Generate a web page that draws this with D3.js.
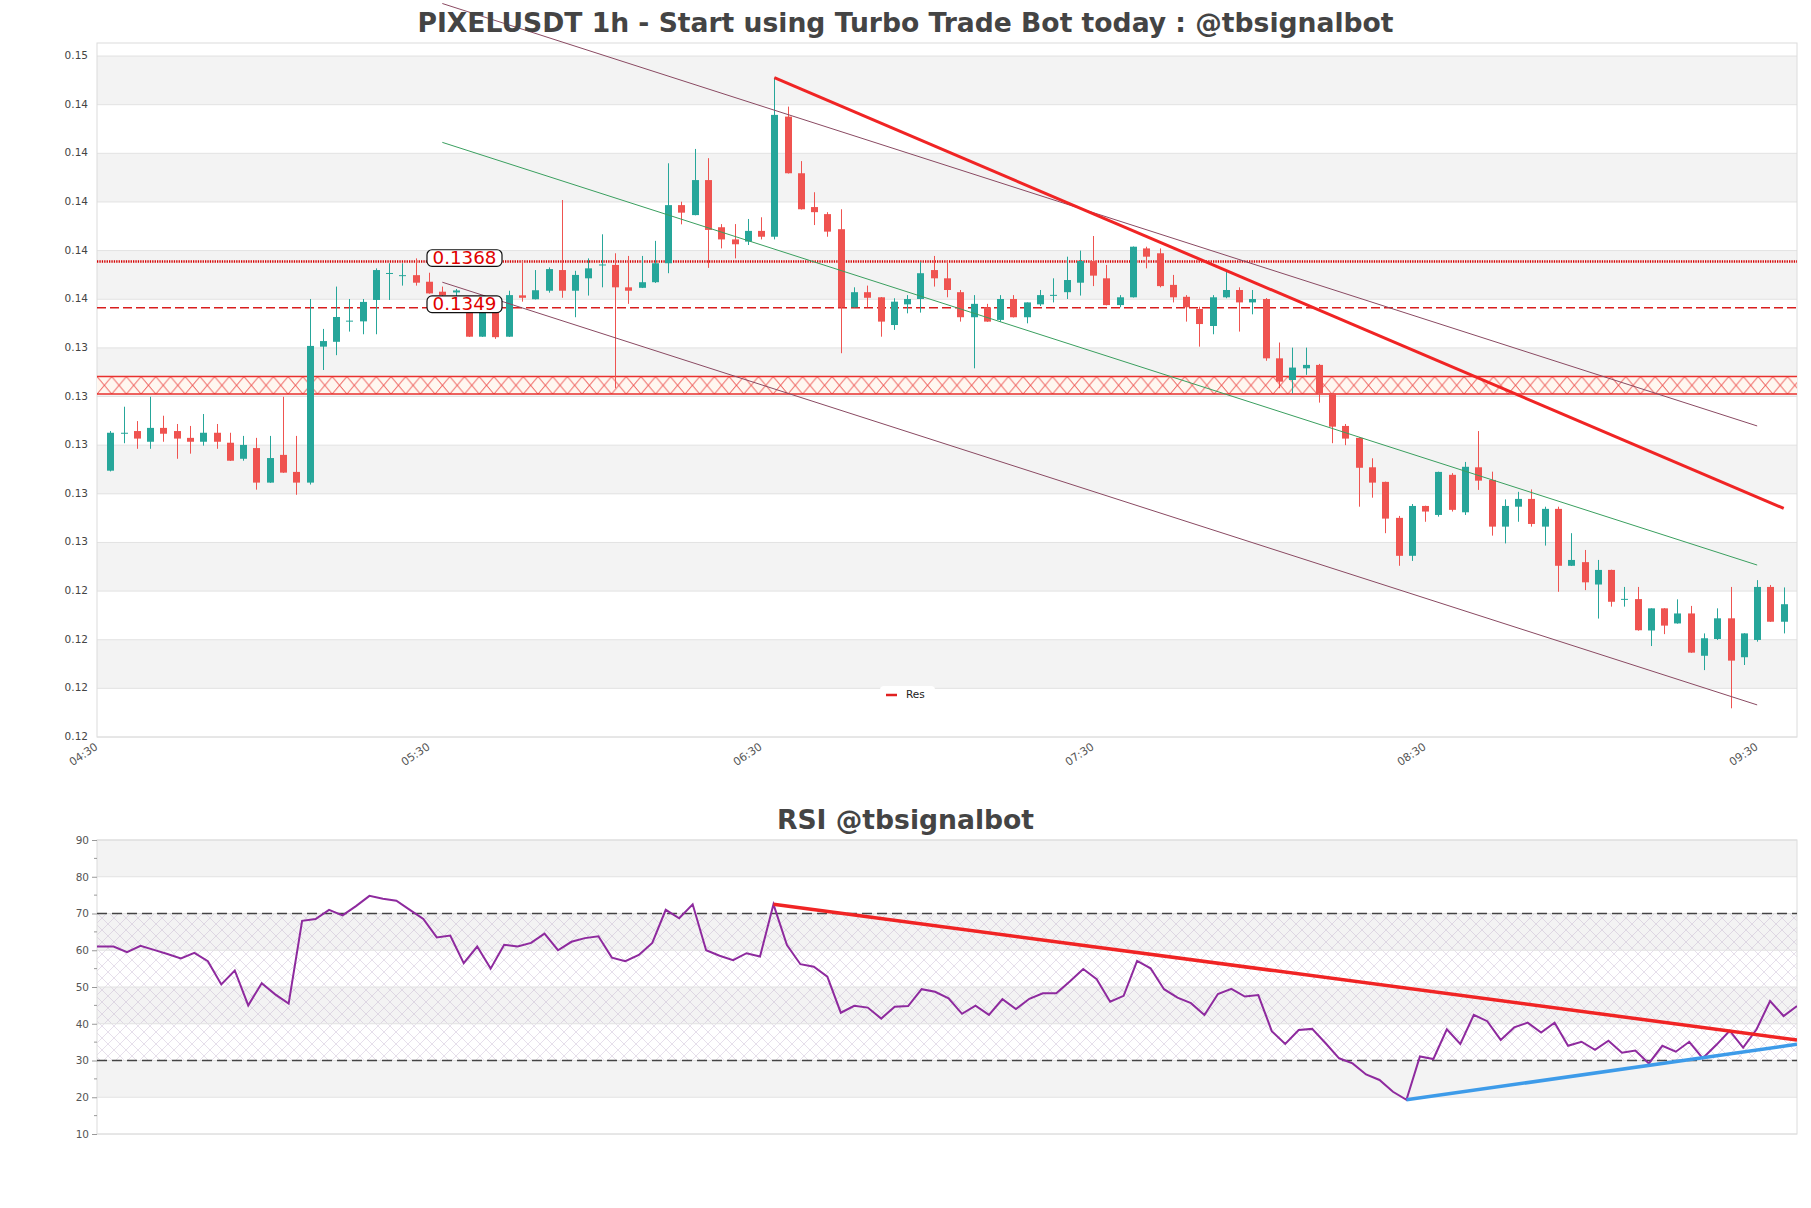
<!DOCTYPE html>
<html>
<head>
<meta charset="utf-8">
<script src="https://cdn.jsdelivr.net/npm/d3@7"></script>
<style>
body { margin: 0; background: #fff; }
text { font-family: "DejaVu Sans", sans-serif; }
</style>
</head>
<body>
<svg id="chart" width="1811" height="1208"></svg>
<script>
// candles 1..127 (category 0 and 128 are empty)
var openP = [0.12820,0.12972,0.12983,0.12939,0.12996,0.12983,0.12955,0.12939,0.12976,0.12935,
0.12869,0.12913,0.12771,0.12885,0.12815,0.12771,0.13330,0.13350,0.13434,0.13434,
0.13522,0.13630,0.13622,0.13624,0.13597,0.13556,0.13553,0.13501,0.13371,0.13501,
0.13371,0.13541,0.13525,0.13560,0.13645,0.13560,0.13611,0.13666,0.13666,0.13574,
0.13572,0.13595,0.13673,0.13912,0.13871,0.14015,0.13821,0.13771,0.13762,0.13806,
0.13782,0.14276,0.14043,0.13904,0.13875,0.13813,0.13492,0.13554,0.13533,0.13419,
0.13504,0.13526,0.13645,0.13611,0.13554,0.13451,0.13492,0.13440,0.13526,0.13451,
0.13504,0.13541,0.13554,0.13593,0.13682,0.13611,0.13501,0.13533,0.13734,0.13714,
0.13584,0.13535,0.13485,0.13415,0.13533,0.13563,0.13512,0.13526,0.13282,0.13193,
0.13241,0.13255,0.13138,0.13004,0.12955,0.12834,0.12774,0.12626,0.12470,0.12675,
0.12638,0.12803,0.12649,0.12834,0.12782,0.12590,0.12672,0.12704,0.12590,0.12663,
0.12429,0.12444,0.12352,0.12412,0.12291,0.12292,0.12163,0.12254,0.12192,0.12233,
0.12059,0.12128,0.12213,0.12053,0.12124,0.12342,0.12199];
var highP = [0.12983,0.13083,0.13024,0.13124,0.13046,0.13012,0.13004,0.13053,0.13012,0.12976,
0.12963,0.12955,0.12963,0.13124,0.12963,0.13526,0.13403,0.13577,0.13526,0.13526,
0.13652,0.13673,0.13673,0.13693,0.13634,0.13577,0.13567,0.13522,0.13522,0.13522,
0.13560,0.13684,0.13645,0.13656,0.13933,0.13642,0.13693,0.13792,0.13714,0.13703,
0.13703,0.13765,0.14084,0.13926,0.14143,0.14105,0.13834,0.13834,0.13855,0.13862,
0.14436,0.14317,0.14093,0.13965,0.13883,0.13895,0.13574,0.13581,0.13534,0.13529,
0.13542,0.13679,0.13703,0.13686,0.13563,0.13542,0.13506,0.13542,0.13542,0.13512,
0.13563,0.13611,0.13700,0.13725,0.13785,0.13666,0.13542,0.13742,0.13741,0.13734,
0.13625,0.13542,0.13494,0.13542,0.13642,0.13574,0.13563,0.13530,0.13347,0.13326,
0.13326,0.13259,0.13139,0.13012,0.12958,0.12871,0.12775,0.12634,0.12683,0.12676,
0.12816,0.12810,0.12856,0.12983,0.12816,0.12702,0.12733,0.12743,0.12672,0.12672,
0.12563,0.12494,0.12453,0.12413,0.12342,0.12342,0.12254,0.12255,0.12291,0.12264,
0.12151,0.12254,0.12342,0.12152,0.12370,0.12350,0.12340];
var lowP = [0.12817,0.12933,0.12910,0.12910,0.12939,0.12869,0.12890,0.12923,0.12910,0.12860,
0.12861,0.12742,0.12770,0.12811,0.12721,0.12763,0.13234,0.13295,0.13392,0.13381,
0.13381,0.13522,0.13581,0.13581,0.13548,0.13534,0.13538,0.13370,0.13370,0.13362,
0.13370,0.13515,0.13524,0.13552,0.13531,0.13451,0.13540,0.13574,0.13159,0.13506,
0.13571,0.13592,0.13632,0.13833,0.13870,0.13654,0.13734,0.13693,0.13748,0.13771,
0.13771,0.14042,0.13894,0.13830,0.13782,0.13303,0.13491,0.13492,0.13371,0.13399,
0.13467,0.13470,0.13577,0.13533,0.13433,0.13241,0.13432,0.13432,0.13450,0.13426,
0.13497,0.13512,0.13526,0.13540,0.13579,0.13500,0.13492,0.13532,0.13652,0.13574,
0.13512,0.13433,0.13330,0.13381,0.13529,0.13392,0.13463,0.13272,0.13159,0.13138,
0.13214,0.13100,0.12933,0.12925,0.12672,0.12709,0.12563,0.12429,0.12449,0.12610,
0.12631,0.12652,0.12638,0.12741,0.12553,0.12521,0.12610,0.12590,0.12512,0.12322,
0.12428,0.12329,0.12212,0.12261,0.12261,0.12162,0.12099,0.12148,0.12191,0.12071,
0.12000,0.12124,0.11843,0.12021,0.12117,0.12198,0.12151];
var closeP = [0.12976,0.12976,0.12952,0.12996,0.12972,0.12952,0.12939,0.12976,0.12939,0.12861,
0.12926,0.12771,0.12872,0.12812,0.12771,0.13333,0.13353,0.13452,0.13437,0.13514,
0.13645,0.13633,0.13624,0.13593,0.13549,0.13542,0.13561,0.13371,0.13501,0.13369,
0.13542,0.13531,0.13562,0.13649,0.13560,0.13625,0.13652,0.13668,0.13574,0.13560,
0.13595,0.13673,0.13912,0.13881,0.14015,0.13810,0.13771,0.13751,0.13806,0.13782,
0.14283,0.14043,0.13895,0.13883,0.13803,0.13492,0.13554,0.13531,0.13433,0.13515,
0.13526,0.13632,0.13611,0.13563,0.13451,0.13506,0.13433,0.13526,0.13451,0.13512,
0.13542,0.13543,0.13604,0.13682,0.13622,0.13501,0.13533,0.13741,0.13700,0.13579,
0.13533,0.13492,0.13423,0.13533,0.13563,0.13512,0.13526,0.13282,0.13186,0.13244,
0.13255,0.13138,0.13001,0.12952,0.12832,0.12771,0.12623,0.12470,0.12675,0.12652,
0.12815,0.12659,0.12836,0.12779,0.12590,0.12675,0.12704,0.12601,0.12663,0.12429,
0.12453,0.12361,0.12412,0.12281,0.12293,0.12164,0.12254,0.12183,0.12233,0.12072,
0.12131,0.12213,0.12039,0.12151,0.12342,0.12199,0.12271];

var rsiValues = [61.0,61.0,61.0,59.5,61.2,60.1,59.0,57.8,59.3,57.0,
50.7,54.5,45.0,51.0,48.0,45.5,68.0,68.5,71.0,69.5,
72.0,74.8,74.0,73.5,71.0,68.5,63.5,64.0,56.5,61.0,
55.0,61.5,61.0,62.0,64.5,60.0,62.3,63.3,63.8,58.0,
57.0,58.7,62.0,71.0,68.7,72.5,60.0,58.5,57.3,59.2,
58.3,72.5,61.4,56.2,55.5,52.8,43.0,44.9,44.4,41.4,
44.6,44.8,49.4,48.7,46.9,42.7,44.9,42.4,46.7,44.0,
46.8,48.3,48.3,51.5,54.9,52.1,46.0,47.6,57.1,55.1,
49.4,47.1,45.6,42.4,48.1,49.5,47.4,47.8,38.0,34.5,
38.3,38.6,34.7,30.6,29.2,26.2,24.7,21.5,19.3,31.1,
30.4,38.5,34.5,42.4,40.7,35.6,39.0,40.3,37.6,40.3,
34.0,35.1,32.9,35.4,32.1,32.7,29.2,34.0,32.4,35.1,
30.6,34.2,38.1,33.5,38.5,46.2,42.1,44.8];

var priceTicks = [0.11725,0.11925,0.12125,0.12325,0.12525,0.12725,0.12925,0.13125,
0.13325,0.13525,0.13725,0.13925,0.14125,0.14325,0.14525];
var priceTickLabels = ["0.12","0.12","0.12","0.12","0.13","0.13","0.13","0.13",
"0.13","0.14","0.14","0.14","0.14","0.14","0.15"];
var timeLabels = ["04:30","05:30","06:30","07:30","08:30","09:30"];
var timeLabelIndex = [0,25,50,75,100,125];
var rsiTicks = [10,20,30,40,50,60,70,80,90];
var rsiMinorTicks = [15,25,35,45,55,65,75,85];

var levelSolid = 0.1368;   // dotted
var levelDashed = 0.1349;  // dashed
var zoneLow = 0.13135, zoneHigh = 0.13207;
var resLine = [[51,0.14436],[127,0.12665]];
var channelTop = [[26,0.14741],[125,0.13004]];
var channelMid = [[26,0.14170],[125,0.12432]];
var channelLow = [[26,0.13595],[125,0.11857]];
var rsiDown = [[51,72.5],[127,35.6]];
var rsiUp = [[98,19.3],[127,34.4]];

var svg = d3.select("#chart");
var W = 1811, L = 97, R = 1797;
var mainTop = 43, mainBottom = 737;
var rsiTop = 840, rsiBottom = 1134;

var x = d3.scaleLinear().domain([0, 128]).range([L, R]);
var y = d3.scaleLinear().domain([0.11725, 0.145786]).range([mainBottom, mainTop]);
var xr = d3.scaleLinear().domain([0.77, 127]).range([L, R]);
var yr = d3.scaleLinear().domain([10, 90]).range([rsiBottom, rsiTop]);

var defs = svg.append("defs");
var zh = y(zoneLow) - y(zoneHigh);
var zp = defs.append("pattern").attr("id", "zoneHatch")
  .attr("patternUnits", "userSpaceOnUse")
  .attr("width", 14.7).attr("height", zh)
  .attr("x", L).attr("y", y(zoneHigh));
zp.append("rect").attr("width", 14.7).attr("height", zh).attr("fill", "#fff7f0");
zp.append("path").attr("d", "M0,0L14.7," + zh + "M14.7,0L0," + zh)
  .attr("stroke", "#e8302e").attr("stroke-width", 0.9).attr("fill", "none");

var rp = defs.append("pattern").attr("id", "rsiHatch")
  .attr("patternUnits", "userSpaceOnUse").attr("width", 12).attr("height", 12);
rp.append("path").attr("d", "M0,0L12,12M12,0L0,12")
  .attr("stroke", "#b9a6c6").attr("stroke-width", 0.6).attr("stroke-opacity", 0.6).attr("fill", "none");

defs.append("clipPath").attr("id", "rsiClip").append("rect")
  .attr("x", L).attr("y", rsiTop).attr("width", R - L).attr("height", rsiBottom - rsiTop);

// ---------- main price panel ----------
var bands = priceTicks.concat([y.domain()[1]]);
for (var i = 0; i < bands.length - 1; i++) {
  svg.append("rect").attr("x", L).attr("width", R - L)
    .attr("y", y(bands[i + 1])).attr("height", y(bands[i]) - y(bands[i + 1]))
    .attr("fill", i % 2 ? "#f3f3f3" : "#ffffff");
}
svg.selectAll(".pgrid").data(priceTicks).enter().append("line")
  .attr("x1", L).attr("x2", R)
  .attr("y1", function(d) { return y(d); }).attr("y2", function(d) { return y(d); })
  .attr("stroke", "#e2e2e2").attr("stroke-width", 1);
svg.append("rect").attr("x", L).attr("y", mainTop).attr("width", R - L).attr("height", mainBottom - mainTop)
  .attr("fill", "none").attr("stroke", "#dcdcdc");

svg.selectAll(".plabel").data(priceTicks).enter().append("text")
  .attr("x", 88).attr("y", function(d) { return y(d); })
  .attr("text-anchor", "end").attr("dominant-baseline", "middle")
  .attr("font-size", 10.5).attr("fill", "#444")
  .text(function(d, i) { return priceTickLabels[i]; });

svg.selectAll(".tlabel").data(timeLabels).enter().append("text")
  .attr("transform", function(d, i) { return "translate(" + x(timeLabelIndex[i]) + "," + (mainBottom + 9) + ") rotate(-34)"; })
  .attr("text-anchor", "end").attr("dominant-baseline", "middle")
  .attr("font-size", 11).attr("fill", "#555")
  .text(function(d) { return d; });

// zone
svg.append("rect").attr("x", L).attr("width", R - L)
  .attr("y", y(zoneHigh)).attr("height", zh)
  .attr("fill", "url(#zoneHatch)");
[zoneLow, zoneHigh].forEach(function(v) {
  svg.append("line").attr("x1", L).attr("x2", R).attr("y1", y(v)).attr("y2", y(v))
    .attr("stroke", "#e8302e").attr("stroke-width", 1.5);
});

// levels
svg.append("line").attr("x1", L).attr("x2", R).attr("y1", y(levelSolid)).attr("y2", y(levelSolid))
  .attr("stroke", "#d40000").attr("stroke-width", 2.5).attr("stroke-dasharray", "1.3,1.1");
svg.append("line").attr("x1", L).attr("x2", R).attr("y1", y(levelDashed)).attr("y2", y(levelDashed))
  .attr("stroke", "#d81e1e").attr("stroke-width", 1.6).attr("stroke-dasharray", "9,4");

// candles
var candles = openP.map(function(o, i) {
  return { idx: i + 1, o: o, h: highP[i], l: lowP[i], c: closeP[i] };
});
var bodyW = 7;
var cg = svg.append("g");
cg.selectAll(".wick").data(candles).enter().append("line")
  .attr("x1", function(d) { return Math.round(x(d.idx)) + 0.5; })
  .attr("x2", function(d) { return Math.round(x(d.idx)) + 0.5; })
  .attr("y1", function(d) { return y(d.h); }).attr("y2", function(d) { return y(d.l); })
  .attr("stroke", function(d) { return d.c >= d.o ? "#26a69a" : "#ef5350"; })
  .attr("stroke-width", 1);
cg.selectAll(".body").data(candles).enter().append("rect")
  .attr("x", function(d) { return Math.round(x(d.idx)) + 0.5 - bodyW / 2; })
  .attr("width", bodyW)
  .attr("y", function(d) { return y(Math.max(d.o, d.c)); })
  .attr("height", function(d) { return Math.max(1, Math.abs(y(d.o) - y(d.c))); })
  .attr("fill", function(d) { return d.c >= d.o ? "#26a69a" : "#ef5350"; });

// trend lines
var lineP = d3.line().x(function(d) { return x(d[0]); }).y(function(d) { return y(d[1]); });
svg.append("path").attr("d", lineP(channelTop)).attr("stroke", "#8a4a62").attr("stroke-width", 1).attr("fill", "none");
svg.append("path").attr("d", lineP(channelLow)).attr("stroke", "#8a4a62").attr("stroke-width", 1).attr("fill", "none");
svg.append("path").attr("d", lineP(channelMid)).attr("stroke", "#3a9f5f").attr("stroke-width", 1).attr("fill", "none");
svg.append("path").attr("d", lineP(resLine)).attr("stroke", "#f02424").attr("stroke-width", 3).attr("fill", "none");

// level labels
[[levelSolid, "0.1368"], [levelDashed, "0.1349"]].forEach(function(lv) {
  var cy = y(lv[0]) - 3.5;
  var g = svg.append("g");
  g.append("rect").attr("x", 427).attr("y", cy - 8.3).attr("width", 75).attr("height", 16.6)
    .attr("rx", 5).attr("fill", "#fff").attr("stroke", "#111").attr("stroke-width", 1.2);
  g.append("text").attr("x", 464.5).attr("y", cy + 0.8).attr("text-anchor", "middle")
    .attr("dominant-baseline", "middle").attr("font-size", 18.3).attr("fill", "#e00000")
    .text(lv[1]);
});

// legend
var lg = svg.append("g");
lg.append("rect").attr("x", 880).attr("y", 686).attr("width", 55).attr("height", 17).attr("rx", 4).attr("fill", "#fff");
lg.append("line").attr("x1", 886).attr("x2", 897).attr("y1", 695).attr("y2", 695)
  .attr("stroke", "#e02020").attr("stroke-width", 2.5);
lg.append("text").attr("x", 906).attr("y", 695).attr("dominant-baseline", "middle")
  .attr("font-size", 10.5).attr("fill", "#222").text("Res");

// title
svg.append("text").attr("x", W / 2).attr("y", 32).attr("text-anchor", "middle")
  .attr("font-size", 26.6).attr("font-weight", "bold").attr("fill", "#444")
  .text("PIXELUSDT 1h - Start using Turbo Trade Bot today : @tbsignalbot");

// ---------- RSI panel ----------
var rb = rsiTicks;
for (var j = 0; j < rb.length - 1; j++) {
  svg.append("rect").attr("x", L).attr("width", R - L)
    .attr("y", yr(rb[j + 1])).attr("height", yr(rb[j]) - yr(rb[j + 1]))
    .attr("fill", j % 2 ? "#f3f3f3" : "#ffffff");
}
svg.append("rect").attr("x", L).attr("width", R - L)
  .attr("y", yr(70)).attr("height", yr(30) - yr(70))
  .attr("fill", "url(#rsiHatch)");
svg.selectAll(".rgrid").data(rsiTicks).enter().append("line")
  .attr("x1", L).attr("x2", R)
  .attr("y1", function(d) { return yr(d); }).attr("y2", function(d) { return yr(d); })
  .attr("stroke", "#e2e2e2");
svg.append("rect").attr("x", L).attr("y", rsiTop).attr("width", R - L).attr("height", rsiBottom - rsiTop)
  .attr("fill", "none").attr("stroke", "#dcdcdc");
[70, 30].forEach(function(v) {
  svg.append("line").attr("x1", L).attr("x2", R).attr("y1", yr(v)).attr("y2", yr(v))
    .attr("stroke", "#444").attr("stroke-width", 1.3).attr("stroke-dasharray", "10,5");
});

var ry = d3.axisLeft(yr).tickValues(rsiTicks).tickSize(5).tickPadding(3);
var ryg = svg.append("g").attr("transform", "translate(" + L + ",0)").call(ry);
ryg.select(".domain").remove();
ryg.selectAll("line").attr("stroke", "#999");
ryg.selectAll("text").attr("font-size", 10.5).attr("fill", "#555").attr("font-family", "DejaVu Sans");
svg.selectAll(".rminor").data(rsiMinorTicks).enter().append("line")
  .attr("x1", L - 3).attr("x2", L)
  .attr("y1", function(d) { return yr(d); }).attr("y2", function(d) { return yr(d); })
  .attr("stroke", "#999");

var rl = svg.append("g").attr("clip-path", "url(#rsiClip)");
var lineR = d3.line().x(function(d, i) { return xr(i); }).y(function(d) { return yr(d); });
rl.append("path").attr("d", lineR(rsiValues)).attr("stroke", "#8e2a9e").attr("stroke-width", 2).attr("fill", "none");
var lineRT = d3.line().x(function(d) { return xr(d[0]); }).y(function(d) { return yr(d[1]); });
rl.append("path").attr("d", lineRT(rsiDown)).attr("stroke", "#f02424").attr("stroke-width", 3.5).attr("fill", "none");
rl.append("path").attr("d", lineRT(rsiUp)).attr("stroke", "#3d9be9").attr("stroke-width", 3.5).attr("fill", "none");

svg.append("text").attr("x", W / 2).attr("y", 829).attr("text-anchor", "middle")
  .attr("font-size", 26.6).attr("font-weight", "bold").attr("fill", "#444")
  .text("RSI @tbsignalbot");
</script>
</body>
</html>
